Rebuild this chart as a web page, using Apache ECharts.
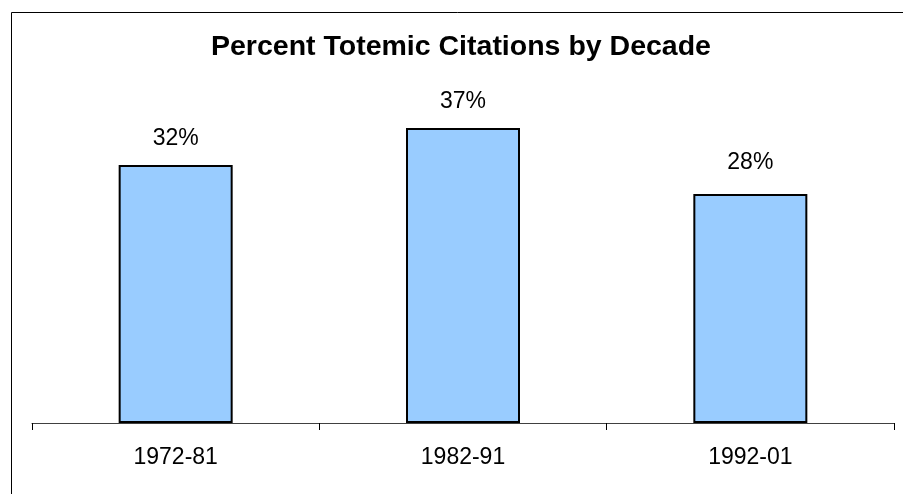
<!DOCTYPE html>
<html>
<head>
<meta charset="utf-8">
<script src="https://cdn.jsdelivr.net/npm/echarts@6/dist/echarts.min.js"></script>
<style>
html,body{margin:0;padding:0;background:#fff;}
#c{width:903px;height:494px;}
</style>
</head>
<body>
<div id="c"></div>
<script>
var titleText = 'Percent Totemic Citations by Decade';
var categories = ['1972-81', '1982-91', '1992-01'];
var values = [32, 36.6, 28.4];
var labelDistances = [15, 15, 20];

var chart = echarts.init(document.getElementById('c'), null, {renderer: 'canvas'});
var font = "'Liberation Sans', Arial, sans-serif";
chart.setOption({
  animation: false,
  backgroundColor: '#fff',
  title: {
    text: titleText,
    left: 211,
    top: 32.6,
    padding: 0,
    textStyle: {fontFamily: font, fontSize: 28.5, fontWeight: 'bold', color: '#000', lineHeight: 28.5}
  },
  graphic: [{
    type: 'rect',
    shape: {x: 11.5, y: 12.5, width: 1000, height: 1000},
    style: {fill: 'none', stroke: '#000', lineWidth: 1},
    silent: true
  }],
  grid: {left: 32, right: 9, top: 100.5, bottom: 71, containLabel: false},
  xAxis: {
    type: 'category',
    data: categories,
    boundaryGap: true,
    axisLine: {lineStyle: {color: '#404040', width: 1}},
    axisTick: {show: true, length: 7, alignWithLabel: false, lineStyle: {color: '#000', width: 1}},
    axisLabel: {fontFamily: font, fontSize: 23, color: '#000', margin: 23, lineHeight: 23}
  },
  yAxis: {
    type: 'value', min: 0, max: 40, show: false,
    splitLine: {show: false}
  },
  series: [{
    type: 'bar',
    barWidth: 114,
    data: values.map(function (v, i) {
      return {value: v, label: {distance: labelDistances[i]}};
    }),
    itemStyle: {color: '#99CCFF', borderColor: '#000', borderWidth: 2},
    label: {
      show: true,
      position: 'top',
      fontFamily: font,
      fontSize: 23,
      lineHeight: 23,
      color: '#000',
      formatter: function (p) { return Math.round(p.value) + '%'; }
    }
  }]
});
</script>
</body>
</html>
